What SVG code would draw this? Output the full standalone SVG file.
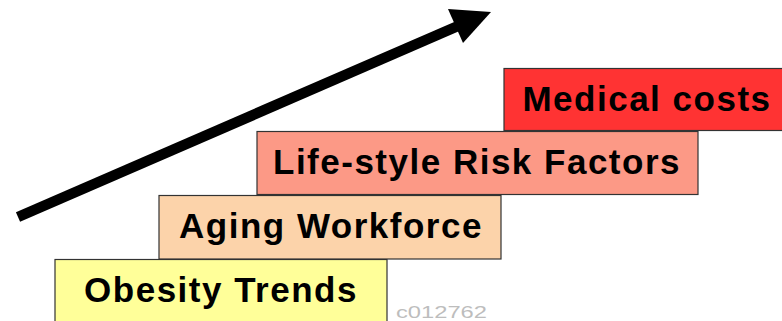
<svg xmlns="http://www.w3.org/2000/svg" width="782" height="321" viewBox="0 0 782 321">
<style>
.box{stroke:#333333;stroke-width:1.2}
.lbl{font-family:"Liberation Sans",Arial,sans-serif;font-weight:bold;font-size:35px;letter-spacing:1.5px;fill:#000;text-anchor:middle}
.code{font-family:"Liberation Sans",Arial,sans-serif;font-size:17px;fill:#BDBDBD}
</style>
<rect width="782" height="321" fill="#ffffff"/>
<g id="connectors">
<line x1="18" y1="217" x2="458" y2="26" stroke="#000" stroke-width="10.5"/>
<polygon points="448,9 491,12 463,43" fill="#000"/>
</g>
<g id="obesity">
<rect class="box" x="55" y="259.5" width="332" height="70" fill="#FFFF99"/>
<text class="lbl" x="221" y="302">Obesity Trends</text>
</g>
<g id="aging">
<rect class="box" x="159" y="195.5" width="342" height="63.5" fill="#FCD3AA"/>
<text class="lbl" x="331" y="238">Aging Workforce</text>
</g>
<g id="lifestyle">
<rect class="box" x="257" y="131.5" width="441" height="63" fill="#FC9986"/>
<text class="lbl" x="477" y="174">Life-style Risk Factors</text>
</g>
<g id="medical">
<rect class="box" x="504" y="68.5" width="290" height="62" fill="#FF3333"/>
<text class="lbl" x="647" y="111">Medical costs</text>
</g>
<text class="code" x="396" y="318" textLength="91" lengthAdjust="spacingAndGlyphs">c012762</text>
</svg>
